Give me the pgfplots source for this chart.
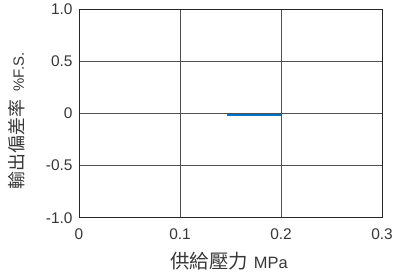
\documentclass[border=0pt]{standalone}
\usepackage{fontspec}
\setmainfont{Liberation Sans}
\newfontfamily\cjk{Noto Sans CJK TC}
\usepackage{pgfplots}
\pgfplotsset{compat=1.18}
\definecolor{lineblue}{RGB}{0,114,198}
\definecolor{tickgray}{RGB}{55,55,55}
\definecolor{gridgray}{RGB}{80,80,80}
\begin{document}
\begin{tikzpicture}
\useasboundingbox (0,0) rectangle (396bp,275bp);
\begin{axis}[
  at={(79bp,57.3bp)}, anchor=south west,
  scale only axis, width=303bp, height=208.7bp,
  xmin=0, xmax=0.3, ymin=-1, ymax=1,
  xtick={0,0.1,0.2,0.3}, xticklabels={0,0.1,0.2,0.3},
  ytick={-1,-0.5,0,0.5,1}, yticklabels={-1.0,-0.5,0,0.5,1.0},
  grid=major, major grid style={gridgray, line width=0.8pt},
  major tick length=0pt,
  axis line style={black!85, line width=0.9pt},
  ticklabel style={font=\fontsize{15.5}{17}\selectfont, text=tickgray},
  xticklabel style={yshift=-7bp},
  yticklabel style={xshift=-3bp},
  /pgf/number format/assume math mode=true,
  xlabel={{\cjk\fontsize{19.5}{21}\selectfont 供給壓力}\hspace{6bp}{\fontsize{16.5}{18}\selectfont MPa}},
  ylabel={{\cjk\fontsize{18}{20}\selectfont 輸出偏差率}\hspace{8bp}{\fontsize{15}{17}\selectfont \%F.S.}},
  label style={text=tickgray},
  xlabel style={at={(axis description cs:0.495,-0.207)}, anchor=center},
  ylabel style={at={(axis description cs:-0.205,0.465)}, anchor=center},
]
\addplot[lineblue, line width=2.2pt] coordinates {(0.147,-0.012) (0.2,-0.012)};
\end{axis}
\end{tikzpicture}
\end{document}
